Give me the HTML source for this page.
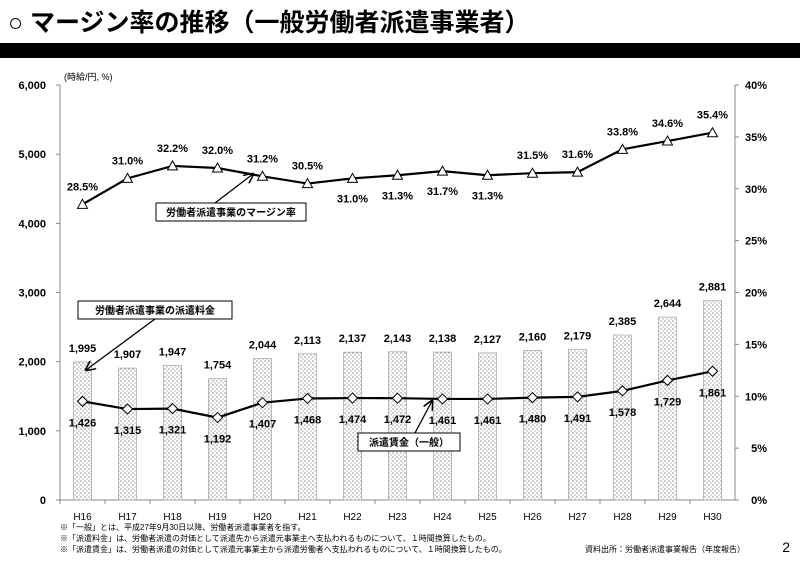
<!DOCTYPE html>
<html><head><meta charset="utf-8"><style>
body{margin:0;background:#fff;width:800px;height:556px;overflow:hidden;font-family:"Liberation Sans","Noto Sans CJK JP",sans-serif}
</style></head><body>
<svg width="800" height="556" viewBox="0 0 800 556" xmlns="http://www.w3.org/2000/svg" font-family="Liberation Sans, Noto Sans CJK JP, sans-serif">
<defs>
<pattern id="dots" width="4" height="4" patternUnits="userSpaceOnUse"><rect width="4" height="4" fill="#fff"/><circle cx="1" cy="1" r="0.6" fill="#555"/><circle cx="3" cy="3" r="0.6" fill="#888"/></pattern>
<marker id="arr" markerWidth="8" markerHeight="8" refX="7" refY="4" orient="auto"><path d="M0,0 L8,4 L0,8" fill="none" stroke="#000" stroke-width="1.2"/></marker>
</defs>
<text x="8" y="31" font-size="25" font-weight="bold">○ マージン率の推移（一般労働者派遣事業者）</text>
<rect x="0" y="43" width="800" height="15" fill="#000"/>
<text x="64" y="80" font-size="9">(時給/円, %)</text>
<g id="axes"></g>
<g id="marks"></g>
<g>
<rect x="156" y="203" width="150" height="18" fill="#fff" stroke="#000"/>
<text x="231" y="216" font-size="10" font-weight="bold" text-anchor="middle">労働者派遣事業のマージン率</text>
<line x1="215" y1="203" x2="253" y2="174" stroke="#000" stroke-width="1.3" marker-end="url(#arr)"/>
</g>
<g>
<rect x="78" y="301" width="154" height="18" fill="#fff" stroke="#000"/>
<text x="155" y="314" font-size="10" font-weight="bold" text-anchor="middle">労働者派遣事業の派遣料金</text>
<line x1="155" y1="319" x2="86" y2="370" stroke="#000" stroke-width="1.3" marker-end="url(#arr)"/>
</g>
<g>
<rect x="358" y="433" width="102" height="18" fill="#fff" stroke="#000"/>
<text x="409" y="446" font-size="10" font-weight="bold" text-anchor="middle">派遣賃金（一般）</text>
<line x1="415" y1="433" x2="432" y2="401" stroke="#000" stroke-width="1.3" marker-end="url(#arr)"/>
</g>
<g font-size="8">
<text x="60" y="530">※「一般」とは、平成27年9月30日以降、労働者派遣事業者を指す。</text>
<text x="60" y="541">※「派遣料金」は、労働者派遣の対価として派遣先から派遣元事業主へ支払われるものについて、１時間換算したもの。</text>
<text x="60" y="552">※「派遣賃金」は、労働者派遣の対価として派遣元事業主から派遣労働者へ支払われるものについて、１時間換算したもの。</text>
<text x="745" y="552" text-anchor="end">資料出所：労働者派遣事業報告（年度報告）</text>
</g>
<text x="790" y="552" font-size="14" text-anchor="end">2</text>
</svg>
<script>
const categories=["H16","H17","H18","H19","H20","H21","H22","H23","H24","H25","H26","H27","H28","H29","H30"];
const feeValues=[1995,1907,1947,1754,2044,2113,2137,2143,2138,2127,2160,2179,2385,2644,2881];
const wageValues=[1426,1315,1321,1192,1407,1468,1474,1472,1461,1461,1480,1491,1578,1729,1861];
const marginValues=[28.5,31.0,32.2,32.0,31.2,30.5,31.0,31.3,31.7,31.3,31.5,31.6,33.8,34.6,35.4];
const marginLabelBelow=[false,false,false,false,false,false,true,true,true,true,false,false,false,false,false];
const leftTicks=[0,1000,2000,3000,4000,5000,6000];
const rightTicks=[0,5,10,15,20,25,30,35,40];
const NS="http://www.w3.org/2000/svg";
const X0=60,X1=735,Y0=500,Y1=85;
const step=(X1-X0)/categories.length;
const xc=i=>X0+step*(i+0.5);
const yL=v=>Y0-(v/6000)*(Y0-Y1);
const yR=v=>Y0-(v/40)*(Y0-Y1);
function mk(tag,attrs,parent,txt){const e=document.createElementNS(NS,tag);for(const k in attrs)e.setAttribute(k,attrs[k]);if(txt!==undefined)e.textContent=txt;parent.appendChild(e);return e;}
const ax=document.getElementById('axes'),mg=document.getElementById('marks');
let e;
e=mk('line',{x1:X0,y1:Y1,x2:X0,y2:Y0,stroke:'#888'},ax);

e=mk('line',{x1:X1,y1:Y1,x2:X1,y2:Y0,stroke:'#888'},ax);

e=mk('line',{x1:X0,y1:Y0,x2:X1,y2:Y0,stroke:'#888'},ax);

leftTicks.forEach(t=>{mk('line',{x1:X0-4,x2:X0,y1:yL(t),y2:yL(t),stroke:'#888'},ax);
e=mk('text',{x:X0-14,y:yL(t)+4,'font-size':11,'font-weight':'bold','text-anchor':'end'},ax,t.toLocaleString('en-US'));
});
rightTicks.forEach(t=>{mk('line',{x1:X1,x2:X1+4,y1:yR(t),y2:yR(t),stroke:'#888'},ax);
e=mk('text',{x:X1+32,y:yR(t)+4,'font-size':11,'font-weight':'bold','text-anchor':'end'},ax,t+'%');
});
categories.forEach((c,i)=>{mk('line',{x1:X0+step*i,x2:X0+step*i,y1:Y0,y2:Y0+4,stroke:'#888'},ax);
e=mk('text',{x:xc(i),y:Y0+20,'font-size':10,'text-anchor':'middle'},ax,c);
});
feeValues.forEach((v,i)=>{e=mk('rect',{x:xc(i)-9,y:yL(v),width:18,height:Y0-yL(v),fill:'url(#dots)',stroke:'#aaa','stroke-width':0.8},mg);

e=mk('text',{x:xc(i),y:yL(v)-10,'font-size':11,'font-weight':'bold','text-anchor':'middle'},mg,v.toLocaleString('en-US'));
});
e=mk('polyline',{points:wageValues.map((v,i)=>xc(i)+','+yL(v)).join(' '),fill:'none',stroke:'#000','stroke-width':2.2},mg);

wageValues.forEach((v,i)=>{const x=xc(i),y=yL(v);
e=mk('path',{d:`M${x},${y-5} L${x+5},${y} L${x},${y+5} L${x-5},${y} Z`,fill:'#fff',stroke:'#000'},mg);

e=mk('text',{x:x,y:y+25,'font-size':11,'font-weight':'bold','text-anchor':'middle'},mg,v.toLocaleString('en-US'));
});
e=mk('polyline',{points:marginValues.map((v,i)=>xc(i)+','+yR(v)).join(' '),fill:'none',stroke:'#000','stroke-width':2.2},mg);

marginValues.forEach((v,i)=>{const x=xc(i),y=yR(v);
e=mk('path',{d:`M${x},${y-5} L${x+5},${y+4} L${x-5},${y+4} Z`,fill:'#fff',stroke:'#000'},mg);

e=mk('text',{x:x,y:marginLabelBelow[i]?y+24:y-14,'font-size':11,'font-weight':'bold','text-anchor':'middle'},mg,v.toFixed(1)+'%');
});
</script>
</body></html>
